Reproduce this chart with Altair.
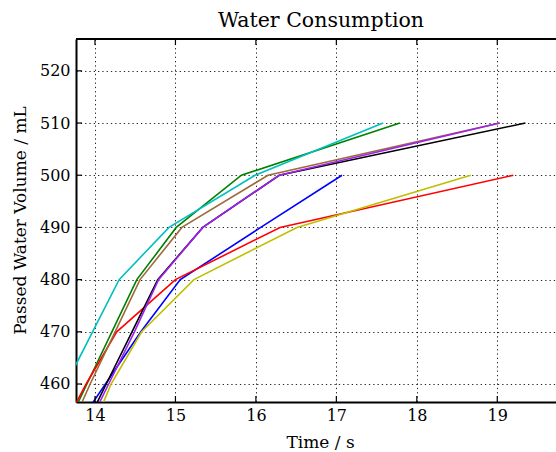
import altair as alt
import pandas as pd

# Volume marks (mL) at which each run's elapsed time was recorded
volumes = [450, 460, 470, 480, 490, 500, 510]

# Elapsed time (s) per run at each volume mark; None = not reached
times_blue   = [13.69, 14.13, 14.57, 15.06, 16.06, 17.07, None]
times_green  = [13.59, 13.90, 14.21, 14.52, 15.01, 15.82, 17.79]
times_red    = [13.55, 13.89, 14.27, 15.00, 16.30, 19.20, None]
times_cyan   = [13.31, 13.64, 13.97, 14.30, 14.92, 15.99, 17.58]
times_yellow = [13.93, 14.20, 14.58, 15.23, 16.51, 18.67, None]
times_black  = [13.82, 14.14, 14.46, 14.78, 15.34, 16.29, 19.35]
times_brown  = [13.65, 13.94, 14.25, 14.56, 15.08, 16.15, 19.03]
times_purple = [13.85, 14.17, 14.49, 14.79, 15.34, 16.29, 19.03]

runs = [
    ("Run 1", times_blue, "#0000FF"),
    ("Run 2", times_green, "#008000"),
    ("Run 3", times_red, "#FF0000"),
    ("Run 4", times_cyan, "#00BFBF"),
    ("Run 5", times_yellow, "#BFBF00"),
    ("Run 6", times_black, "#000000"),
    ("Run 7", times_brown, "#9C6B3C"),
    ("Run 8", times_purple, "#A020F0"),
]

x_ticks = [14, 15, 16, 17, 18, 19]
y_ticks = [460, 470, 480, 490, 500, 510, 520]

W, H = 480, 363
FONT = "DejaVu Serif"

x_scale = alt.Scale(domain=[13.764, 19.73], nice=False, zero=False)
y_scale = alt.Scale(domain=[456.55, 526.1], nice=False, zero=False)

x_axis = alt.Axis(
    values=x_ticks, format="d", title="Time / s", grid=True,
    gridColor="black", gridDash=[1.3, 3], gridWidth=1, gridOpacity=0.85,
    ticks=False, domainColor="black", domainWidth=2,
    labelFont=FONT, labelFontSize=16, labelColor="black", labelPadding=5,
    titleFont=FONT, titleFontSize=17, titleFontWeight="normal", titleColor="black",
    titleX=244, titleY=45, titleBaseline="alphabetic", titleAnchor="middle",
)
y_axis = alt.Axis(
    values=y_ticks, format="d", title="Passed Water Volume / mL", grid=True,
    gridColor="black", gridDash=[1.3, 3], gridWidth=1, gridOpacity=0.85,
    ticks=False, domainColor="black", domainWidth=2,
    labelFont=FONT, labelFontSize=16, labelColor="black", labelPadding=6,
    titleFont=FONT, titleFontSize=17, titleFontWeight="normal", titleColor="black",
    titleX=-51, titleY=181, titleBaseline="alphabetic", titleAnchor="middle",
)


def xq(field):
    return alt.X(field, type="quantitative", scale=x_scale, axis=x_axis, title="Time / s")


def yq(field):
    return alt.Y(field, type="quantitative", scale=y_scale, axis=y_axis,
                 title="Passed Water Volume / mL")


layers = []
for name, times, color in runs:
    df = pd.DataFrame({"run": name, "time": times, "volume": volumes}).dropna()
    layers.append(
        alt.Chart(df).mark_line(color=color, strokeWidth=1.6, clip=True).encode(
            x=xq("time"), y=yq("volume"), order=alt.Order("volume:Q")
        )
    )

# Inward-pointing tick marks on the bottom, top and left frame edges
xt = pd.DataFrame({"time": x_ticks})
yt = pd.DataFrame({"volume": y_ticks})
tick_style = dict(color="black", strokeWidth=1.2)
layers.append(alt.Chart(xt).mark_rule(**tick_style).encode(
    x=xq("time"), y=alt.value(H), y2=alt.value(H - 6)))
layers.append(alt.Chart(xt).mark_rule(**tick_style).encode(
    x=xq("time"), y=alt.value(0), y2=alt.value(6)))
layers.append(alt.Chart(yt).mark_rule(**tick_style).encode(
    y=yq("volume"), x=alt.value(0), x2=alt.value(6)))
# Top frame edge
layers.append(alt.Chart(xt).mark_rule(color="black", strokeWidth=2).encode(
    x=alt.value(0), x2=alt.value(W), y=alt.value(0)))

chart = alt.layer(*layers).properties(
    width=W, height=H,
    title=alt.TitleParams(
        "Water Consumption", font=FONT, fontSize=20.5, fontWeight="normal",
        color="black", anchor="middle", dx=5, offset=7,
    ),
    autosize=alt.AutoSizeParams(type="none"),
    padding={"left": 76, "top": 39, "right": 0, "bottom": 50},
).configure_view(stroke=None).configure(background="white")

chart.save("out.html", embed_options={"renderer": "svg", "actions": False})
